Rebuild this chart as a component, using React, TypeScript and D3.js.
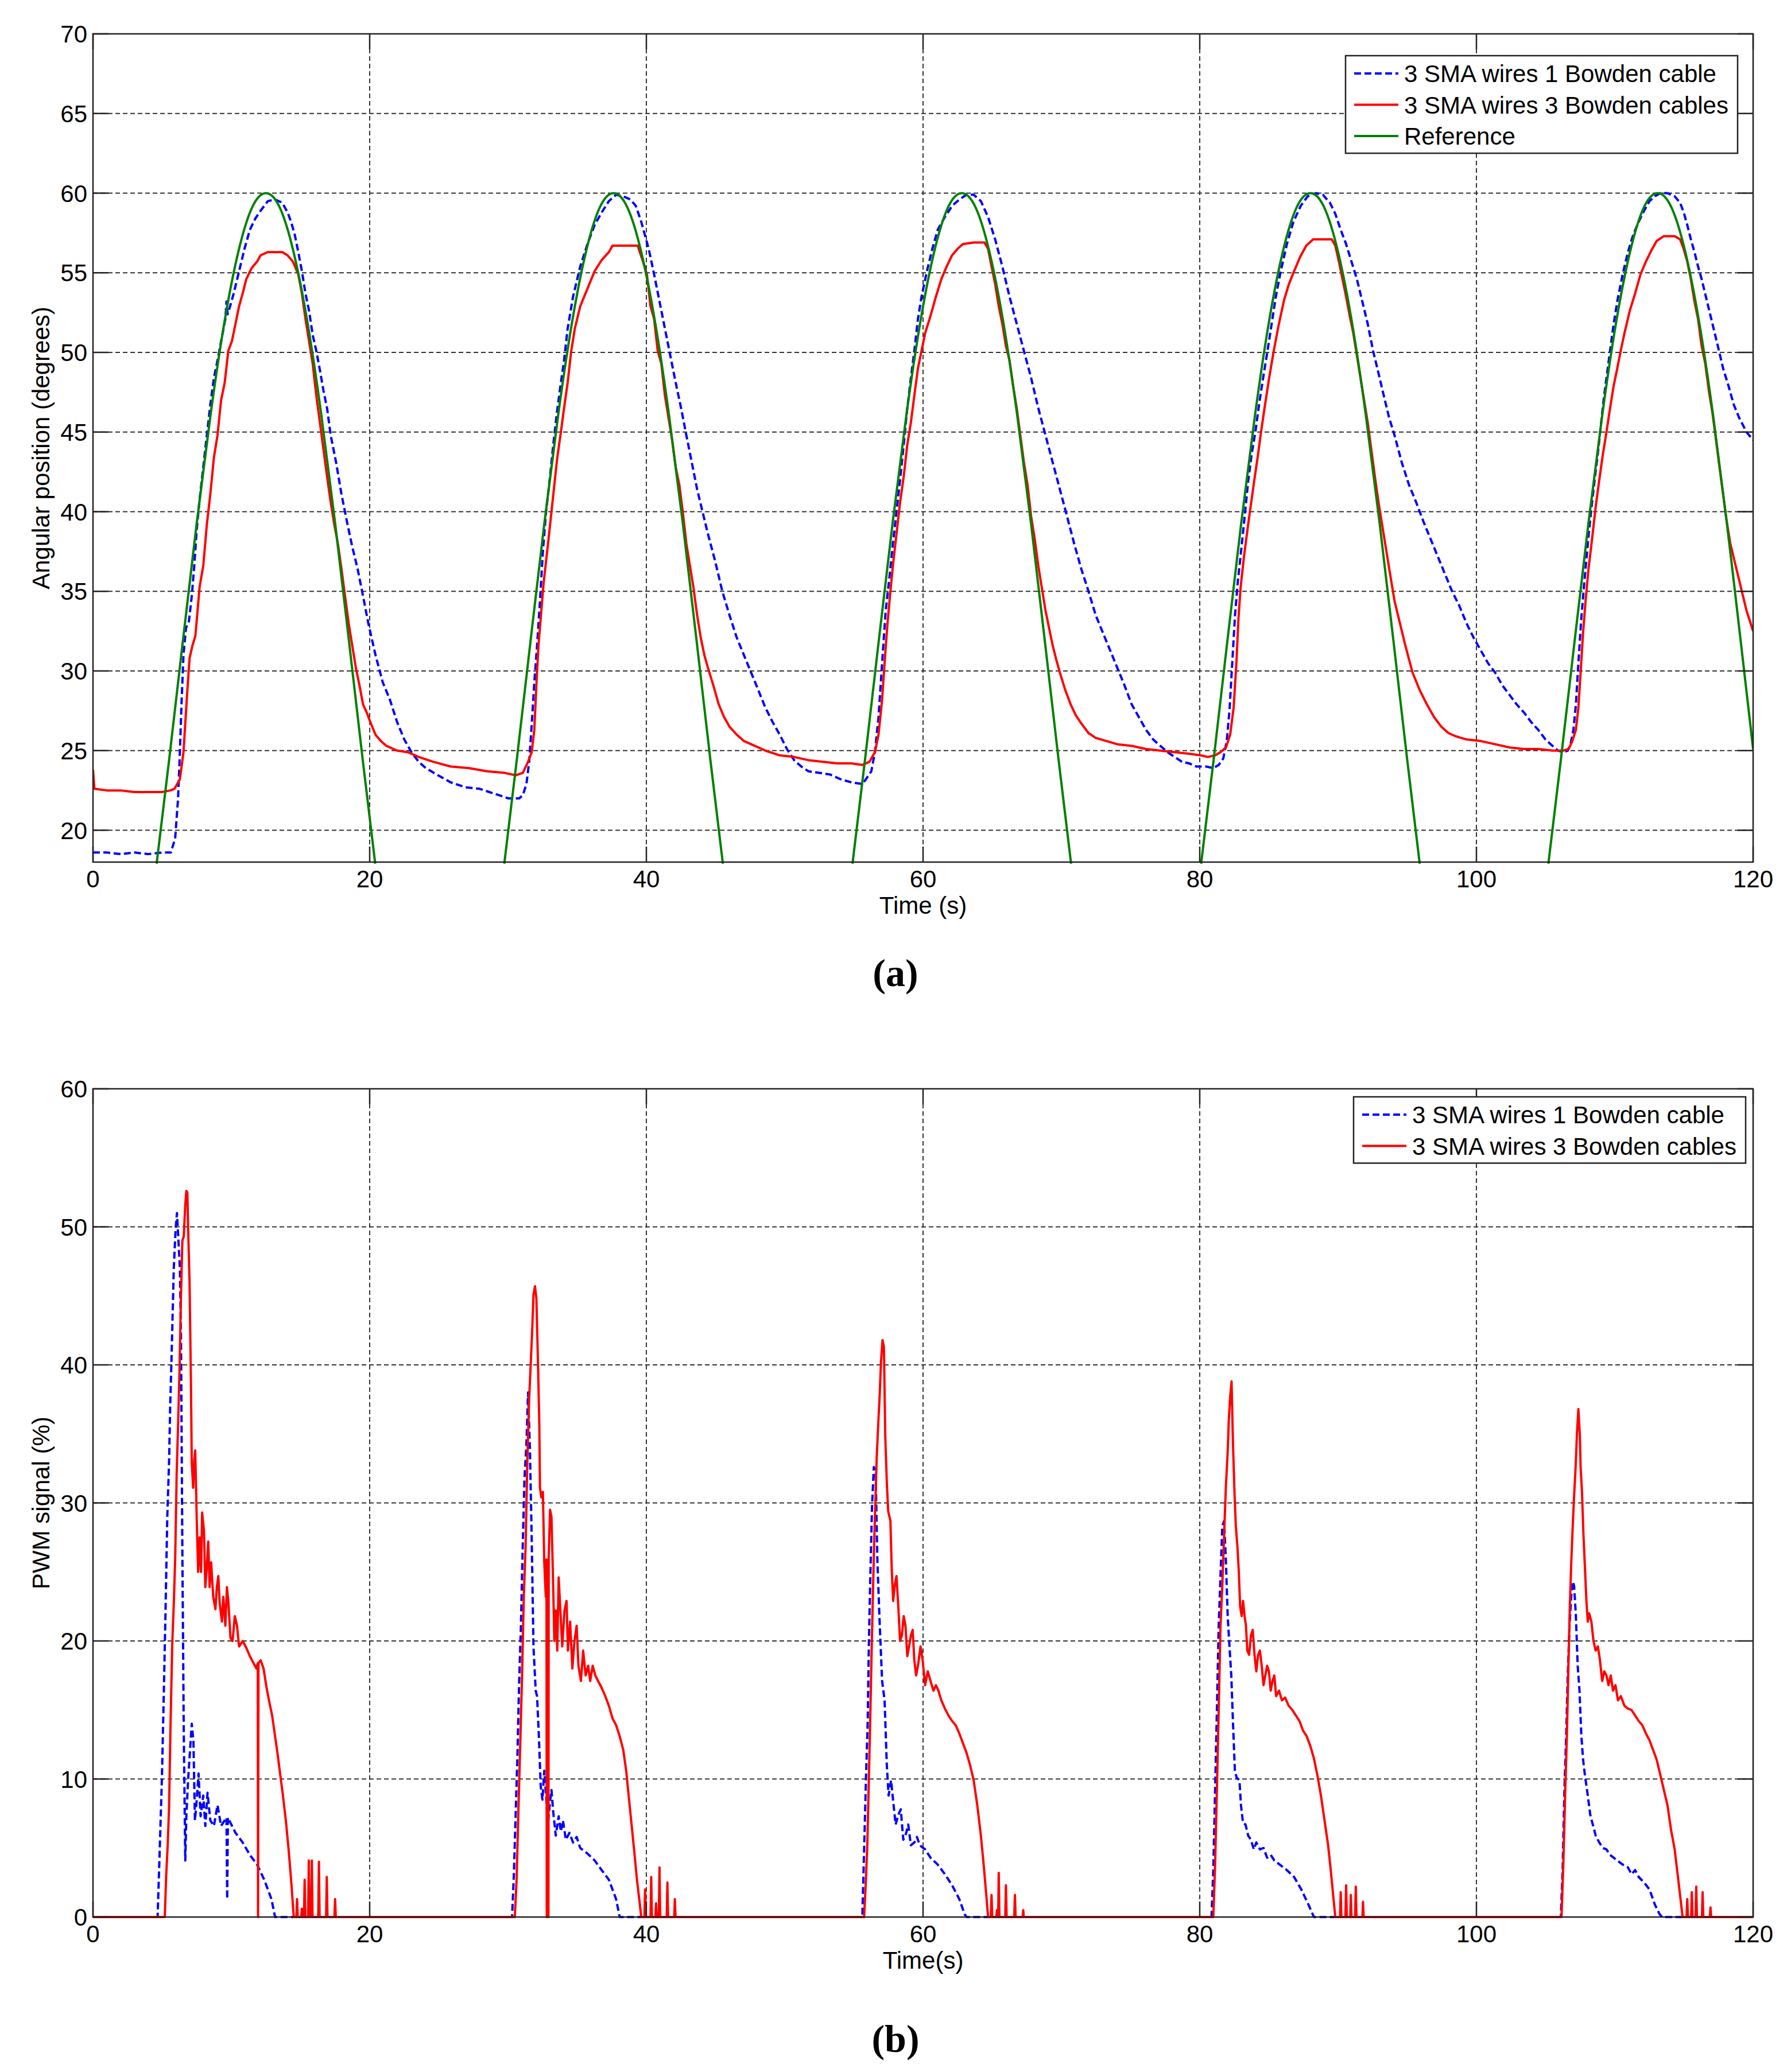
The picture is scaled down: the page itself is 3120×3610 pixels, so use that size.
import React from 'react';
import * as d3 from 'd3';

type Pt = [number, number];

// axes
const timeTicks = [0, 20, 40, 60, 80, 100, 120];
const angleTicks = [20, 25, 30, 35, 40, 45, 50, 55, 60, 65, 70];
const pwmTicks = [0, 10, 20, 30, 40, 50, 60];

const seriesNames = ['3 SMA wires 1 Bowden cable', '3 SMA wires 3 Bowden cables', 'Reference'];

// (a) angular position, 1 Bowden cable (blue dashed)
const angle1Bowden: Pt[] = [
  [0, 18.6], [1, 18.6], [2, 18.5], [3, 18.6], [4, 18.5], [5, 18.6], [5.63, 18.6], [5.94, 19.5], [6.15, 22], [6.28, 24.9],
  [6.41, 28.2], [6.54, 31], [6.72, 32.7], [6.93, 33.1], [7.14, 34.7], [7.32, 36.6], [7.5, 38.9], [7.71, 40.8], [7.97, 42.8],
  [8.23, 44.8], [8.48, 46.7], [8.74, 48.4], [9.0, 49.5], [9.26, 50.7], [9.57, 52.1], [9.65, 53.2], [9.73, 52.4], [9.91, 52.9],
  [10.17, 53.7], [10.56, 55.1], [10.95, 56.5], [11.34, 57.7], [11.73, 58.4], [12.12, 58.9], [12.64, 59.5], [13.16, 59.6],
  [13.68, 59.4], [14.06, 58.8], [14.32, 58.2], [14.58, 57.4], [14.84, 56.3], [15.1, 55.1], [15.36, 53.7], [15.62, 52.6],
  [15.88, 51.1], [16.14, 50.1], [16.4, 48.9], [16.66, 47.6], [16.92, 46.5], [17.18, 44.8], [17.57, 43.1], [17.96, 41.1],
  [18.35, 39.4], [18.74, 37.8], [19.13, 36.4], [19.52, 34.7], [19.9, 33], [20.42, 31], [20.94, 29.3], [21.46, 28.2],
  [21.98, 26.8], [22.5, 25.7], [23.02, 24.9], [23.54, 24.3], [24.06, 23.9], [24.84, 23.5], [25.87, 23], [26.91, 22.7],
  [27.95, 22.6], [28.99, 22.3], [30.03, 22], [30.81, 22], [31.07, 22.2], [31.33, 22.9], [31.53, 24.3], [31.71, 26.6],
  [31.9, 29.3], [32.1, 31.6], [32.31, 34.4], [32.52, 37.5], [32.75, 40], [33.01, 42], [33.27, 44.2], [33.53, 46.2],
  [33.79, 47.9], [34.05, 49.5], [34.31, 51.5], [34.7, 53.5], [35.22, 55.4], [35.74, 56.8], [36.26, 58], [36.78, 58.8],
  [37.29, 59.5], [37.81, 59.9], [38.33, 59.8], [38.85, 59.6], [39.24, 59.2], [39.63, 58.2], [40.17, 56.5], [40.56, 54.9],
  [40.95, 53.2], [41.34, 51.5], [41.73, 49.8], [42.12, 48.1], [42.51, 46.5], [42.89, 44.8], [43.28, 43.1], [43.67, 41.4],
  [44.06, 40], [44.45, 38.6], [44.97, 36.9], [45.49, 35], [46.01, 33.5], [46.53, 32.1], [47.05, 31], [47.57, 29.9],
  [48.09, 28.8], [48.6, 27.7], [49.12, 26.8], [49.64, 26], [50.16, 25.1], [50.68, 24.4], [51.2, 24], [51.72, 23.7],
  [52.5, 23.6], [53.28, 23.5], [54.05, 23.2], [54.83, 23], [55.61, 22.9], [55.87, 23.2], [56.26, 23.7], [56.52, 24.9],
  [56.78, 27.1], [57.04, 30.5], [57.3, 33.8], [57.56, 35.8], [57.82, 38], [58.08, 40], [58.34, 42], [58.6, 44.2],
  [58.86, 46.5], [59.12, 48.4], [59.37, 50.1], [59.63, 52.1], [59.89, 53.5], [60.28, 55.1], [60.67, 56.5], [61.06, 57.7],
  [61.58, 58.5], [62.1, 59.2], [62.62, 59.6], [63.14, 59.9], [63.66, 59.9], [64.18, 59.5], [64.7, 58.5], [65.21, 57.1],
  [65.73, 55.4], [66.25, 53.5], [66.77, 51.8], [67.29, 50.1], [67.81, 48.4], [68.33, 46.5], [68.85, 44.8], [69.37, 43.1],
  [69.89, 41.4], [70.41, 39.7], [70.92, 38], [71.44, 36.4], [71.96, 35], [72.48, 33.5], [73.0, 32.4], [73.52, 31.3],
  [74.04, 30.2], [74.56, 29.1], [75.08, 27.9], [75.6, 27.1], [76.12, 26.3], [76.63, 25.7], [77.15, 25.3], [77.67, 24.9],
  [78.19, 24.6], [78.71, 24.3], [79.23, 24.2], [79.75, 24], [80.46, 24], [80.98, 23.9], [81.37, 24.1], [81.7, 24.5],
  [81.95, 25.6], [82.15, 27.5], [82.35, 30.5], [82.55, 33.5], [82.75, 35.6], [82.95, 37.2], [83.2, 39.3], [83.5, 41.9],
  [83.75, 43.6], [84.02, 45], [84.3, 46.8], [84.6, 48.5], [84.88, 50], [85.2, 51.8], [85.5, 53.5], [85.83, 55],
  [86.3, 56.8], [86.77, 58.2], [87.3, 59.2], [87.8, 59.8], [88.4, 60], [88.9, 59.9], [89.2, 59.6], [89.41, 59.4],
  [89.8, 58.7], [90.19, 57.7], [90.58, 56.8], [90.97, 55.7], [91.36, 54.6], [91.75, 53.2], [92.14, 51.8],
  [92.53, 50.1], [92.92, 48.7], [93.3, 47.3], [93.69, 45.9], [94.08, 44.8], [94.6, 43.1], [95.12, 41.7], [95.64, 40.6],
  [96.16, 39.4], [96.68, 38.3], [97.2, 37.2], [97.72, 36.1], [98.24, 35], [98.76, 34.1], [99.28, 33], [99.79, 32.1],
  [100.31, 31.3], [100.83, 30.5], [101.35, 29.9], [101.87, 29.1], [102.39, 28.5], [102.91, 27.9], [103.43, 27.4],
  [103.95, 26.8], [104.47, 26.3], [104.99, 25.7], [105.5, 25.3], [105.89, 25], [106.28, 24.9], [106.6, 25], [106.8, 25.4],
  [107.01, 26.3], [107.19, 27.9], [107.37, 30.5], [107.58, 33.3], [107.79, 35.5], [107.97, 37.2], [108.15, 38.9],
  [108.36, 40.6], [108.57, 42.2], [108.77, 43.6], [108.98, 45.3], [109.19, 47], [109.4, 48.4], [109.66, 50.1],
  [109.92, 51.8], [110.18, 53.2], [110.57, 54.9], [110.95, 56.3], [111.34, 57.4], [111.73, 58.2], [112.12, 58.9],
  [112.51, 59.5], [112.9, 59.8], [113.29, 60], [113.81, 60], [114.33, 59.8], [114.72, 59.4], [114.98, 58.8], [115.24, 58],
  [115.5, 57.1], [115.76, 56.3], [116.02, 55.4], [116.28, 54.6], [116.67, 53.2], [117.06, 51.8], [117.45, 50.4],
  [117.83, 49], [118.22, 47.9], [118.61, 46.7], [118.99, 45.9], [119.52, 45], [120, 44.5],
];

// (a) angular position, 3 Bowden cables (red)
const angle3Bowden: Pt[] = [
  [0, 23.8], [0.1, 22.6], [1, 22.5], [2, 22.5], [3, 22.4], [4, 22.4], [5, 22.4], [5.6, 22.5], [5.89, 22.6], [6.28, 23.2],
  [6.54, 24.9], [6.8, 28.5], [6.98, 30.8], [7.19, 31.6], [7.4, 32.2], [7.71, 35.3], [7.97, 36.6], [8.23, 39.2], [8.48, 41.1],
  [8.74, 43.4], [9.0, 44.8], [9.26, 47], [9.52, 48.1], [9.78, 50.1], [10.04, 50.7], [10.3, 51.8], [10.56, 52.9],
  [10.82, 53.7], [11.08, 54.6], [11.47, 55.3], [11.86, 55.7], [12.12, 56.1], [12.64, 56.3], [13.68, 56.3], [14.06, 56.1],
  [14.45, 55.7], [14.84, 54.9], [15.1, 53.7], [15.36, 52.1], [15.62, 50.7], [15.88, 49.3], [16.14, 47.3], [16.4, 45.6],
  [16.66, 43.9], [16.92, 42.2], [17.18, 40.6], [17.44, 39.2], [17.7, 38], [17.96, 36.4], [18.22, 34.7], [18.48, 33],
  [18.74, 31.6], [19.0, 30.2], [19.26, 29.1], [19.52, 27.9], [19.78, 27.4], [20.04, 26.8], [20.42, 26], [20.81, 25.6],
  [21.2, 25.3], [21.98, 25], [22.76, 24.9], [23.54, 24.6], [24.58, 24.3], [25.87, 24], [27.17, 23.9], [28.47, 23.7],
  [29.76, 23.6], [30.55, 23.45], [31.07, 23.6], [31.45, 24.3], [31.71, 24.9], [31.9, 26.3], [32.05, 29.1], [32.2, 31.6],
  [32.36, 33.3], [32.57, 35.5], [32.75, 36.9], [32.93, 38.3], [33.14, 40], [33.35, 41.7], [33.56, 43.4], [33.79, 44.8],
  [34.05, 46.5], [34.31, 48.1], [34.57, 50.1], [34.83, 51.5], [35.22, 52.9], [35.74, 54], [36.26, 55.1], [36.77, 55.8],
  [37.29, 56.3], [37.55, 56.7], [38.59, 56.7], [39.37, 56.7], [39.76, 55.7], [40.04, 54.9], [40.3, 52.9], [40.56, 52.1],
  [40.82, 50.1], [41.08, 49.3], [41.34, 47.3], [41.6, 45.9], [41.86, 44.5], [42.12, 42.8], [42.38, 41.7], [42.63, 40],
  [42.89, 38], [43.15, 36.6], [43.41, 35.2], [43.67, 33.5], [43.93, 32.1], [44.19, 31], [44.45, 30.2], [44.84, 29.1],
  [45.23, 27.9], [45.62, 27.1], [46.01, 26.5], [46.53, 26], [47.05, 25.6], [47.83, 25.3], [48.6, 25], [49.64, 24.7],
  [50.68, 24.6], [51.72, 24.4], [52.76, 24.3], [53.8, 24.2], [54.83, 24.2], [55.61, 24.1], [56.13, 24.3], [56.52, 24.9],
  [56.78, 26], [57.04, 28.2], [57.22, 30.5], [57.43, 33], [57.64, 35], [57.82, 36.6], [58.08, 38.6], [58.34, 40.6],
  [58.6, 42.2], [58.86, 44.2], [59.12, 45.6], [59.37, 47.3], [59.63, 49], [59.89, 50.1], [60.15, 51.2], [60.54, 52.3],
  [60.93, 53.5], [61.32, 54.6], [61.71, 55.4], [62.1, 56.1], [62.49, 56.5], [62.88, 56.8], [63.66, 56.9], [64.44, 56.9],
  [64.7, 56.5], [64.95, 55.4], [65.21, 54.3], [65.47, 52.9], [65.73, 51.8], [65.99, 50.4], [66.25, 49.5], [66.51, 47.9],
  [66.77, 46.5], [67.03, 44.8], [67.29, 43.1], [67.55, 41.7], [67.81, 39.7], [68.07, 38.3], [68.33, 36.6], [68.59, 35.2],
  [68.85, 33.8], [69.11, 32.7], [69.37, 31.6], [69.63, 30.7], [69.89, 29.9], [70.28, 28.8], [70.67, 27.9], [71.05, 27.2],
  [71.44, 26.7], [71.96, 26.1], [72.48, 25.8], [73.26, 25.6], [74.04, 25.4], [75.08, 25.3], [76.12, 25.1], [77.15, 25],
  [78.19, 24.9], [79.23, 24.8], [80.07, 24.7], [80.59, 24.6], [81.11, 24.7], [81.5, 24.9], [81.9, 25.2], [82.2, 26],
  [82.45, 27.7], [82.65, 30.5], [82.8, 33.3], [82.95, 35.2], [83.2, 37.2], [83.5, 39.2], [83.93, 41.9], [84.2, 43.5],
  [84.43, 45], [84.7, 46.6], [85.0, 48.3], [85.33, 50], [85.7, 51.7], [86.1, 53.3], [86.45, 54.3], [86.77, 55],
  [87.26, 56], [87.7, 56.7], [88.2, 57.1], [88.89, 57.1], [89.54, 57.1], [89.8, 56.7],
  [90.06, 55.7], [90.32, 54.6], [90.58, 53.5], [90.84, 52.3], [91.1, 51.2], [91.36, 49.8], [91.62, 48.4], [91.88, 47],
  [92.14, 45.6], [92.4, 43.9], [92.66, 42.2], [92.92, 40.6], [93.18, 39.2], [93.44, 37.8], [93.7, 36.4], [94.08, 34.4],
  [94.47, 33], [94.86, 31.6], [95.38, 29.9], [95.9, 28.8], [96.42, 27.9], [96.94, 27.1], [97.46, 26.5], [97.98, 26.1],
  [98.5, 25.9], [99.28, 25.7], [100.31, 25.6], [101.35, 25.4], [102.39, 25.2], [103.43, 25.1], [104.47, 25.1], [105.5, 25],
  [106.28, 25], [106.67, 25.1], [106.93, 25.6], [107.19, 26.3], [107.37, 27.7], [107.53, 29.9], [107.71, 32.4],
  [107.89, 34.4], [108.1, 36.4], [108.36, 38.3], [108.62, 40.3], [108.88, 42], [109.14, 43.6], [109.4, 45], [109.66, 46.5],
  [109.92, 47.9], [110.18, 49], [110.43, 50.1], [110.7, 51.2], [111.08, 52.6], [111.47, 53.7], [111.86, 54.9],
  [112.25, 55.7], [112.64, 56.4], [113.03, 57], [113.55, 57.3], [114.33, 57.3], [114.72, 57.1], [114.98, 56.5],
  [115.24, 55.7], [115.5, 54.6], [115.76, 53.2], [116.02, 52.1], [116.28, 50.4], [116.54, 49.3], [116.8, 47.6],
  [117.06, 46.2], [117.32, 44.5], [117.57, 42.8], [117.83, 41.1], [118.09, 39.4], [118.35, 38], [118.74, 36.6],
  [119.13, 35.2], [119.52, 33.8], [120, 32.5],
];

// (a) reference trajectory, visible arcs above 18 degrees (green)
const referenceArcs: Pt[][] = [
  [[4.6, 17.9], [5.5, 24.4], [6.5, 31.9], [7.5, 39.3], [8.5, 46.1], [9.5, 51.9], [10.5, 56.3], [11.5, 59.1], [12.5, 60],
    [13.5, 59.1], [14.5, 56.3], [15.5, 51.9], [16.5, 46.1], [17.5, 39.3], [18.5, 31.9], [19.5, 24.4], [20.4, 17.9]],
  [[29.73, 17.9], [30.63, 24.4], [31.63, 31.9], [32.63, 39.3], [33.63, 46.1], [34.63, 51.9], [35.63, 56.3], [36.63, 59.1],
    [37.63, 60], [38.63, 59.1], [39.63, 56.3], [40.63, 51.9], [41.63, 46.1], [42.63, 39.3], [43.63, 31.9], [44.63, 24.4],
    [45.53, 17.9]],
  [[54.9, 17.9], [55.8, 24.4], [56.8, 31.9], [57.8, 39.3], [58.8, 46.1], [59.8, 51.9], [60.8, 56.3], [61.8, 59.1], [62.8, 60],
    [63.8, 59.1], [64.8, 56.3], [65.8, 51.9], [66.8, 46.1], [67.8, 39.3], [68.8, 31.9], [69.8, 24.4], [70.7, 17.9]],
  [[80.1, 17.9], [81, 24.4], [82, 31.9], [83, 39.3], [84, 46.1], [85, 51.9], [86, 56.3], [87, 59.1], [88, 60], [89, 59.1],
    [90, 56.3], [91, 51.9], [92, 46.1], [93, 39.3], [94, 31.9], [95, 24.4], [95.9, 17.9]],
  [[105.2, 17.9], [106.1, 24.4], [107.1, 31.9], [108.1, 39.3], [109.1, 46.1], [110.1, 51.9], [111.1, 56.3], [112.1, 59.1],
    [113.1, 60], [114.1, 59.1], [115.1, 56.3], [116.1, 51.9], [117.1, 46.1], [118.1, 39.3], [119.1, 31.9], [120, 25.1]],
];

// (b) PWM signal, 1 Bowden cable (blue dashed)
const pwm1Bowden: Pt[] = [
  [0, 0], [4.67, 0], [4.8, 4.1], [4.98, 10], [5.11, 15.8], [5.24, 22], [5.37, 29], [5.5, 33], [5.58, 37], [5.68, 40.6],
  [5.84, 47], [5.97, 49.8], [6.07, 51], [6.15, 49.5], [6.28, 47], [6.36, 42], [6.46, 26.4], [6.56, 13.5], [6.67, 4.1],
  [6.75, 7.4], [6.88, 10], [7.14, 14], [7.26, 12.7], [7.37, 7], [7.5, 8.5], [7.63, 10.4], [7.78, 7.3], [7.97, 8.8],
  [8.12, 6.6], [8.28, 9], [8.48, 7], [8.74, 6.6], [9.0, 8.1], [9.26, 6.6], [9.65, 7.2], [9.7, 1.3], [9.75, 7.2], [10.3, 6.1],
  [10.82, 5.4], [11.34, 4.5], [11.86, 3.8], [12.38, 2.7], [12.9, 1.3], [13.16, 0],
  [30.29, 0], [30.42, 3], [30.55, 7.4], [30.68, 11.7], [30.8, 16.9], [30.93, 21], [31.06, 26.8], [31.19, 31.8], [31.32, 34],
  [31.45, 38], [31.58, 34], [31.71, 27.5], [31.84, 19.6], [32.0, 16.4], [32.1, 16], [32.23, 13.1], [32.36, 9.5],
  [32.49, 8.5], [32.62, 10.6], [32.75, 8.8], [32.88, 6.7], [33.01, 8.1], [33.14, 9.2], [33.27, 7.6], [33.45, 5.9],
  [33.66, 7.3], [33.82, 6.2], [33.97, 7], [34.18, 5.6], [34.44, 6.1], [34.7, 5.4], [34.96, 5.8], [35.22, 5], [35.74, 4.6],
  [36.26, 4.1], [36.77, 3.4], [37.29, 2.7], [37.81, 1.3], [38.07, 0],
  [55.61, 0], [55.74, 4.9], [55.87, 9.9], [56.0, 14.2], [56.08, 19.6], [56.18, 24.3], [56.31, 29.7], [56.44, 32.6],
  [56.57, 32.3], [56.7, 25.8], [56.86, 21.4], [57.04, 17.1], [57.22, 15.7], [57.38, 11], [57.51, 8.8], [57.69, 9.9],
  [57.87, 8.1], [58.02, 6.7], [58.21, 7.4], [58.39, 7.8], [58.57, 5.6], [58.73, 5.9], [58.93, 6.7], [59.12, 5.2],
  [59.37, 5.4], [59.56, 5.8], [59.76, 5.2], [60.15, 4.9], [60.54, 4.3], [61.06, 3.8], [61.58, 3.1], [62.1, 2.3],
  [62.62, 1.3], [63.01, 0.2], [63.14, 0],
  [80.85, 0], [80.98, 3.4], [81.11, 9.2], [81.24, 15], [81.37, 21.1], [81.5, 24.7], [81.63, 28.3], [81.76, 28.7],
  [81.89, 25.8], [82.02, 21.8], [82.15, 19.6], [82.28, 17.5], [82.41, 13.9], [82.54, 10.6], [82.67, 10.1], [82.87, 9.9],
  [82.98, 8.1], [83.13, 6.8], [83.31, 6.7], [83.5, 5.9], [83.7, 5.6], [83.91, 4.9], [84.09, 5.4], [84.35, 4.9], [84.61, 5],
  [84.87, 4.3], [85.13, 4.5], [85.39, 4.1], [85.78, 3.8], [86.3, 3.4], [86.82, 2.9], [87.34, 2], [87.86, 0.9], [88.25, 0],
  [106.1, 0], [106.23, 3.4], [106.36, 9.2], [106.49, 13.2], [106.6, 17.5], [106.73, 21.1], [106.86, 23.3], [106.96, 24.3],
  [107.06, 24], [107.19, 21.8], [107.32, 18.2], [107.45, 16.4], [107.58, 13.2], [107.71, 11.4], [107.84, 10.3],
  [108.05, 8.8], [108.23, 7.4], [108.41, 6.7], [108.62, 5.9], [108.88, 5.4], [109.14, 5], [109.4, 4.9], [109.66, 4.5],
  [109.92, 4.3], [110.17, 4.1], [110.57, 3.8], [110.95, 3.6], [111.21, 3.1], [111.47, 3.4], [111.73, 2.9], [112.12, 2.5],
  [112.51, 2], [112.9, 0.9], [113.24, 0.2], [113.42, 0], [120, 0],
];

// (b) PWM signal, 3 Bowden cables (red)
const pwm3Bowden: Pt[] = [
  [0, 0], [5.19, 0], [5.29, 3], [5.4, 5.2], [5.5, 8], [5.6, 13.7], [5.73, 19.8], [5.84, 22.7], [5.94, 25.9], [6.05, 32.2],
  [6.15, 35.6], [6.25, 39.4], [6.36, 45], [6.46, 49], [6.56, 49.3], [6.67, 51.6], [6.75, 52.6], [6.82, 52.5], [6.88, 49.8],
  [6.98, 46], [7.08, 38.7], [7.14, 32.9], [7.24, 31.1], [7.32, 33.1], [7.39, 33.8], [7.5, 28.8], [7.6, 25], [7.71, 27.5],
  [7.81, 25], [7.89, 29.3], [8.02, 28], [8.12, 23.9], [8.23, 25.4], [8.33, 27.2], [8.43, 23.9], [8.54, 25.7], [8.69, 23.2],
  [8.85, 22.3], [8.95, 23.9], [9.06, 24.7], [9.16, 22.7], [9.32, 21.4], [9.42, 23.2], [9.57, 21.1], [9.68, 23.9],
  [9.78, 22.9], [9.94, 20.2], [10.09, 20], [10.25, 21.8], [10.41, 21.1], [10.56, 19.6], [10.82, 20], [11.08, 19.5],
  [11.34, 18.9], [11.6, 18.4], [11.81, 18], [11.91, 18.4], [11.93, 0], [11.96, 18.4], [12.12, 18.6], [12.33, 18],
  [12.53, 16.7], [12.74, 15.6], [12.95, 14.6], [13.16, 13.1], [13.36, 11.7], [13.55, 10.2], [13.73, 8.8], [13.94, 7],
  [14.14, 4.9], [14.35, 2.3], [14.51, 0], [14.7, 0], [14.75, 1.3], [14.8, 0], [15.05, 0], [15.1, 0.6], [15.15, 0],
  [15.25, 0], [15.3, 2.7], [15.35, 0], [15.55, 0], [15.6, 4.1], [15.65, 0], [15.77, 0], [15.82, 4.1], [15.87, 0],
  [16.28, 0], [16.33, 4], [16.38, 0], [16.85, 0], [16.9, 2.9], [16.95, 0], [17.45, 0], [17.5, 1.3], [17.55, 0],
  [30.49, 0], [30.62, 2.7], [30.75, 7.7], [30.88, 12.4], [31.01, 17.3], [31.14, 23.2], [31.27, 26.8], [31.4, 33.3],
  [31.53, 37.6], [31.66, 40.5], [31.74, 42.3], [31.84, 45.1], [31.95, 45.7], [32.05, 44.8], [32.15, 40.8], [32.26, 35.8],
  [32.31, 31.1], [32.41, 30.4], [32.52, 30.8], [32.62, 25.7], [32.73, 23.2], [32.78, 25.9], [32.8, 0], [32.92, 0],
  [32.94, 26.1], [33.04, 29.5], [33.14, 29], [33.25, 24.6], [33.35, 20], [33.45, 22.2], [33.56, 19.3], [33.66, 24.6],
  [33.77, 22.5], [33.92, 19.6], [34.08, 22.2], [34.23, 22.9], [34.33, 19.3], [34.49, 21.4], [34.65, 18], [34.8, 20],
  [34.96, 21.1], [35.09, 18.2], [35.27, 17.1], [35.43, 19.3], [35.61, 17.5], [35.79, 18.2], [35.94, 17.1], [36.12, 18.2],
  [36.31, 17.5], [36.51, 17.1], [36.77, 16.6], [37.03, 16], [37.29, 15.3], [37.55, 14.4], [37.81, 13.9], [38.07, 13.1],
  [38.33, 12.1], [38.54, 10.6], [38.72, 8.8], [38.9, 7], [39.11, 4.9], [39.32, 2.7], [39.53, 0.9], [39.63, 0],
  [39.86, 0], [39.91, 2], [39.96, 0], [40.3, 0], [40.35, 2.9], [40.4, 0], [40.65, 0], [40.7, 1], [40.75, 0], [40.9, 0],
  [40.95, 3.6], [41.0, 0], [41.47, 0], [41.52, 2.5], [41.57, 0], [42.01, 0], [42.06, 1.3], [42.11, 0],
  [55.74, 0], [55.87, 2.7], [55.97, 5.2], [56.08, 9.9], [56.18, 14.2], [56.29, 19.6], [56.39, 24], [56.49, 27.9],
  [56.65, 33.3], [56.75, 35.5], [56.86, 37.7], [56.96, 40.2], [57.07, 41.8], [57.17, 41.3], [57.27, 34.8], [57.38, 31.5],
  [57.48, 29.4], [57.64, 28.7], [57.74, 25.1], [57.84, 22.9], [57.95, 24], [58.08, 24.7], [58.21, 22.5], [58.34, 20],
  [58.47, 20.4], [58.6, 21.8], [58.73, 21.1], [58.86, 18.9], [58.99, 19.6], [59.12, 20.4], [59.25, 20.8], [59.37, 18.6],
  [59.5, 17.5], [59.63, 18.2], [59.82, 19.6], [59.97, 18.6], [60.15, 16.8], [60.34, 17.8], [60.54, 17.1], [60.75, 16.4],
  [60.93, 16.8], [61.11, 16.4], [61.32, 15.7], [61.58, 15.1], [61.84, 14.6], [62.1, 14.2], [62.36, 13.9], [62.62, 13.3],
  [62.88, 12.6], [63.14, 11.9], [63.4, 11], [63.66, 9.9], [63.92, 8.1], [64.18, 5.9], [64.38, 3.8], [64.57, 1.6],
  [64.7, 0], [64.9, 0], [64.95, 1.6], [65.0, 0], [65.3, 0], [65.34, 0.5], [65.4, 0], [65.43, 0], [65.47, 3.2], [65.52, 0],
  [65.94, 0], [65.99, 2.3], [66.04, 0], [66.59, 0], [66.64, 1.6], [66.69, 0], [67.2, 0], [67.24, 0.5], [67.28, 0],
  [80.98, 0], [81.11, 3.8], [81.24, 9.2], [81.37, 15], [81.5, 21.1], [81.63, 24], [81.76, 27.6], [81.89, 31.2],
  [82.02, 33.7], [82.1, 36], [82.2, 37.7], [82.3, 38.8], [82.4, 34.4], [82.51, 30.8], [82.61, 28.3], [82.72, 26.9],
  [82.82, 25.1], [82.92, 22.5], [83.03, 21.8], [83.13, 22.9], [83.24, 21.8], [83.34, 21.1], [83.44, 19.3], [83.57, 19],
  [83.7, 20.4], [83.83, 20.8], [83.96, 19], [84.09, 17.8], [84.22, 19], [84.35, 19.3], [84.48, 18.2], [84.61, 16.8],
  [84.74, 17.5], [84.87, 18.2], [85.0, 17.8], [85.13, 16.4], [85.26, 17.1], [85.39, 17.5], [85.52, 16], [85.73, 16.4],
  [85.94, 15.7], [86.17, 15.9], [86.43, 15.3], [86.69, 15], [86.95, 14.6], [87.21, 14.2], [87.47, 13.5], [87.73, 13.1],
  [87.99, 12.4], [88.25, 11.5], [88.5, 10.3], [88.76, 8.8], [89.02, 7], [89.28, 5.2], [89.47, 3.4], [89.67, 1.3],
  [89.8, 0], [90.14, 0], [90.19, 1.8], [90.24, 0], [90.53, 0], [90.58, 2.3], [90.63, 0], [90.88, 0], [90.92, 1.6],
  [90.97, 0], [91.23, 0], [91.28, 2.2], [91.33, 0], [91.76, 0], [91.8, 1.1], [91.85, 0],
  [106.15, 0], [106.28, 3.8], [106.41, 8.8], [106.54, 13.2], [106.65, 18.2], [106.75, 22.5], [106.86, 25.8],
  [106.96, 28.3], [107.06, 30.5], [107.17, 32.6], [107.27, 35.1], [107.37, 36.8], [107.48, 34.8], [107.53, 32.6],
  [107.63, 30.8], [107.74, 27.6], [107.84, 25.4], [107.95, 22.9], [108.05, 21.4], [108.15, 22], [108.31, 21.4],
  [108.46, 20], [108.62, 19.3], [108.78, 19.6], [108.93, 18.6], [109.09, 17.1], [109.24, 17.8], [109.4, 17.5],
  [109.55, 16.8], [109.71, 17.5], [109.87, 16.4], [110.05, 16.8], [110.23, 15.7], [110.44, 16], [110.7, 15.3],
  [110.95, 15.1], [111.21, 15], [111.47, 14.6], [111.73, 14.2], [111.99, 13.9], [112.25, 13.3], [112.51, 12.8],
  [112.77, 12.1], [113.03, 11.4], [113.29, 10.3], [113.55, 9.2], [113.81, 8.1], [114.07, 6.3], [114.33, 4.9],
  [114.59, 2.7], [114.8, 0.9], [114.9, 0], [115.19, 0], [115.24, 1.3], [115.29, 0], [115.52, 0], [115.57, 1.8],
  [115.62, 0], [115.84, 0], [115.89, 2.2], [115.94, 0], [116.3, 0], [116.35, 1.8], [116.4, 0], [116.87, 0],
  [116.92, 0.7], [116.97, 0], [120, 0],
];

const W = 3120;
const H = 3610;
const LEFT = 162;
const RIGHT = 3054;
const FONT = 'Liberation Sans, Arial, Helvetica, sans-serif';
const BLUE = '#0000ff';
const RED = '#ff0000';
const GREEN = '#008000';
const DASH = '12,6';
const LW = 4;
const TICK = 27;

type Series = { segments: Pt[][]; color: string; dash?: string; smooth?: boolean };
type LegendItem = { label: string; color: string; dash?: string };

function Panel(props: {
  id: string;
  top: number;
  bottom: number;
  yDomain: [number, number];
  yTicks: number[];
  yLabel: string;
  xLabel: string;
  caption: string;
  captionY: number;
  series: Series[];
  legend: { x: number; y: number; w: number; items: LegendItem[] };
}) {
  const { id, top, bottom, yDomain, yTicks, yLabel, xLabel, caption, captionY, series, legend } = props;
  const x = d3.scaleLinear().domain([0, 120]).range([LEFT, RIGHT]);
  const y = d3.scaleLinear().domain(yDomain).range([bottom, top]);
  const straight = d3.line<Pt>().x(d => x(d[0])).y(d => y(d[1]));
  const smooth = d3.line<Pt>().x(d => x(d[0])).y(d => y(d[1])).curve(d3.curveNatural);

  const rowH = 54.5;
  const legH = legend.items.length * rowH + 61 - rowH;

  return (
    <g>
      <defs>
        <clipPath id={id}>
          <rect x={LEFT} y={top - 4} width={RIGHT - LEFT} height={bottom - top + 8} />
        </clipPath>
      </defs>

      {/* dotted grid */}
      <g stroke="#333" strokeWidth={2} strokeDasharray="8,5">
        {timeTicks.filter(t => t > 0 && t < 120).map(t => (
          <line key={'gx' + t} x1={x(t)} x2={x(t)} y1={top} y2={bottom} />
        ))}
        {yTicks.filter(v => v > yDomain[0] && v < yDomain[1]).map(v => (
          <line key={'gy' + v} x1={LEFT} x2={RIGHT} y1={y(v)} y2={y(v)} />
        ))}
      </g>

      {/* data */}
      <g clipPath={`url(#${id})`} fill="none">
        {series.map((s, i) =>
          s.segments.map((seg, j) => (
            <path
              key={i + '-' + j}
              d={(s.smooth ? smooth : straight)(seg) || ''}
              stroke={s.color}
              strokeWidth={LW}
              strokeDasharray={s.dash}
              strokeLinejoin="round"
            />
          ))
        )}
      </g>

      {/* frame and inward ticks */}
      <rect x={LEFT} y={top} width={RIGHT - LEFT} height={bottom - top} fill="none" stroke="#222" strokeWidth={2.5} />
      <g stroke="#222" strokeWidth={2.5}>
        {timeTicks.map(t => (
          <g key={'tx' + t}>
            <line x1={x(t)} x2={x(t)} y1={bottom} y2={bottom - TICK} />
            <line x1={x(t)} x2={x(t)} y1={top} y2={top + TICK} />
          </g>
        ))}
        {yTicks.map(v => (
          <g key={'ty' + v}>
            <line x1={LEFT} x2={LEFT + TICK} y1={y(v)} y2={y(v)} />
            <line x1={RIGHT} x2={RIGHT - TICK} y1={y(v)} y2={y(v)} />
          </g>
        ))}
      </g>

      {/* tick labels */}
      <g fontFamily={FONT} fontSize={42} fill="#000">
        {timeTicks.map(t => (
          <text key={'lx' + t} x={x(t)} y={bottom + 44} textAnchor="middle">{t}</text>
        ))}
        {yTicks.map(v => (
          <text key={'ly' + v} x={LEFT - 10} y={y(v) + 15} textAnchor="end">{v}</text>
        ))}
        <text x={x(60)} y={bottom + 90} textAnchor="middle">{xLabel}</text>
        <text transform={`translate(86,${(top + bottom) / 2}) rotate(-90)`} textAnchor="middle">{yLabel}</text>
      </g>

      <text x={W / 2} y={captionY} textAnchor="middle" fontFamily="Liberation Serif, Times New Roman, serif"
        fontWeight="bold" fontSize={68}>{caption}</text>

      {/* legend */}
      <g>
        <rect x={legend.x} y={legend.y} width={legend.w} height={legH} fill="#fff" stroke="#222" strokeWidth={2.5} />
        {legend.items.map((it, i) => {
          const cy = legend.y + 31 + i * rowH;
          return (
            <g key={it.label}>
              <line x1={legend.x + 15} x2={legend.x + 92} y1={cy} y2={cy} stroke={it.color} strokeWidth={LW}
                strokeDasharray={it.dash} />
              <text x={legend.x + 102} y={cy + 15} fontFamily={FONT} fontSize={42}>{it.label}</text>
            </g>
          );
        })}
      </g>
    </g>
  );
}

export default function App() {
  return (
    <svg width={W} height={H} viewBox={`0 0 ${W} ${H}`}
      style={{ position: 'absolute', left: 0, top: 0, background: '#fff', display: 'block' }}>
      <rect width={W} height={H} fill="#fff" />
      <Panel
        id="clipA"
        top={59}
        bottom={1502}
        yDomain={[18, 70]}
        yTicks={angleTicks}
        yLabel="Angular position (degrees)"
        xLabel="Time (s)"
        caption="(a)"
        captionY={1718}
        series={[
          { segments: [angle1Bowden], color: BLUE, dash: DASH },
          { segments: [angle3Bowden], color: RED },
          { segments: referenceArcs, color: GREEN, smooth: true },
        ]}
        legend={{
          x: 2344, y: 97, w: 683,
          items: [
            { label: seriesNames[0], color: BLUE, dash: DASH },
            { label: seriesNames[1], color: RED },
            { label: seriesNames[2], color: GREEN },
          ],
        }}
      />
      <Panel
        id="clipB"
        top={1897}
        bottom={3340}
        yDomain={[0, 60]}
        yTicks={pwmTicks}
        yLabel="PWM signal (%)"
        xLabel="Time(s)"
        caption="(b)"
        captionY={3575}
        series={[
          { segments: [pwm1Bowden], color: BLUE, dash: DASH },
          { segments: [pwm3Bowden], color: RED },
        ]}
        legend={{
          x: 2358, y: 1911, w: 683,
          items: [
            { label: seriesNames[0], color: BLUE, dash: DASH },
            { label: seriesNames[1], color: RED },
          ],
        }}
      />
    </svg>
  );
}
